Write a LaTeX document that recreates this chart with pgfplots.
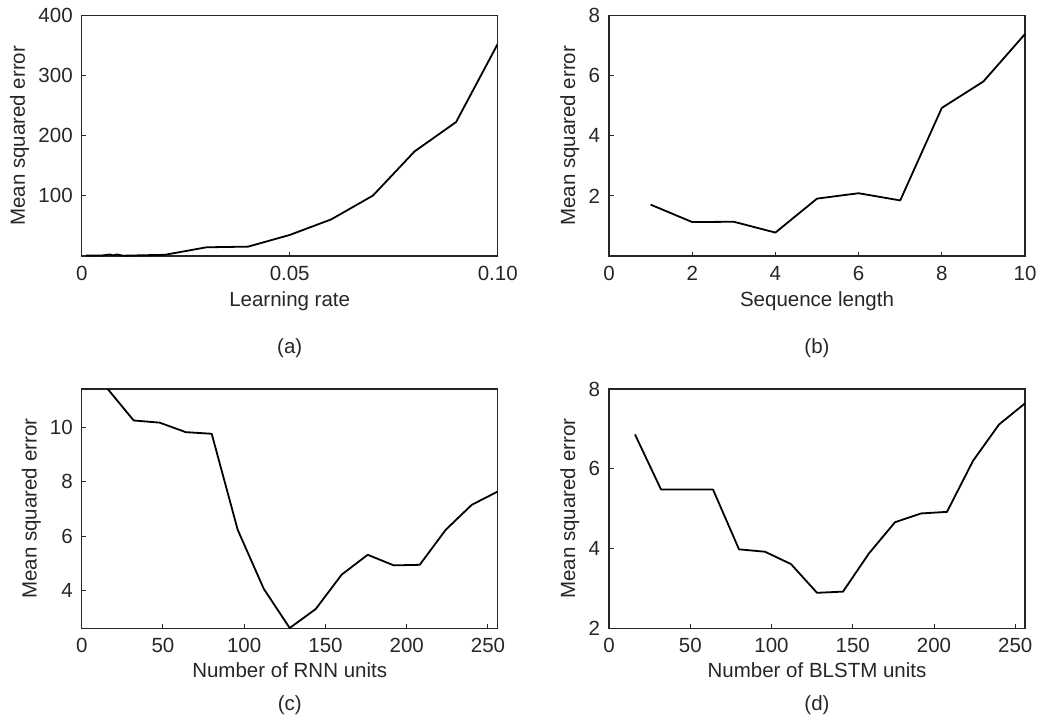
\documentclass[border=0pt]{standalone}
\usepackage{fontspec}
\setmainfont{Liberation Sans}
\usepackage{pgfplots}
\pgfplotsset{compat=1.18}
\definecolor{axgray}{HTML}{262626}

\pgfplotsset{
  panel/.style={
    scale only axis,
    width=416pt,
    axis line style={axgray, line width=1.2pt},
    tick style={axgray, line width=1pt},
    major tick length=4.5pt,
    tick align=inside,
    xtick pos=bottom,
    ytick pos=left,
    tick label style={text=axgray},
    label style={text=axgray},
    xticklabel style={yshift=-3pt},
    yticklabel style={xshift=-2pt},
    /pgf/number format/assume math mode=true,
    xlabel style={at={(axis description cs:0.5,0)}, anchor=base, yshift=-50pt},
    ylabel style={at={(axis description cs:0,0.5)}, anchor=base},
    every axis plot post/.append style={black, line width=1.8pt, mark=none, line join=round},
  },
}

\begin{document}
\fontsize{20.5}{24}\selectfont
\begin{tikzpicture}[x=1pt,y=1pt]
\path[use as bounding box] (0,0) rectangle (1040,-722);

% (a)
\begin{axis}[panel, at={(81.7pt,-256pt)}, anchor=south west, height=240.3pt,
  xmin=0, xmax=0.1, ymin=0, ymax=400,
  xtick={0,0.05,0.1}, xticklabels={0,0.05,0.10},
  ytick={100,200,300,400},
  xlabel={Learning rate}, ylabel={Mean squared error},
  ylabel style={yshift=56.7pt}]
\addplot coordinates {(0.001,1) (0.005,1) (0.0068,2.5) (0.0076,1) (0.0084,2.5)
  (0.01,0.5) (0.02,2) (0.03,14.5) (0.04,15.6) (0.05,35) (0.06,61)
  (0.07,100.5) (0.08,174) (0.09,223) (0.1,353)};
\end{axis}

% (b)
\begin{axis}[panel, at={(609pt,-256pt)}, anchor=south west, height=240.3pt,
  xmin=0, xmax=10, ymin=0, ymax=8,
  xtick={0,2,4,6,8,10}, ytick={2,4,6,8},
  xlabel={Sequence length}, ylabel={Mean squared error},
  ylabel style={yshift=34pt}]
\addplot coordinates {(1,1.71) (2,1.13) (3,1.14) (4,0.78) (5,1.91) (6,2.09)
  (7,1.85) (8,4.93) (9,5.81) (10,7.39)};
\end{axis}

% (c)
\begin{axis}[panel, at={(81.7pt,-628.3pt)}, anchor=south west, height=239.3pt,
  xmin=0, xmax=256, ymin=2.6, ymax=11.42,
  xtick={0,50,100,150,200,250}, ytick={4,6,8,10},
  xlabel={Number of RNN units}, ylabel={Mean squared error},
  xlabel style={yshift=1.3pt},
  ylabel style={yshift=45pt}]
\addplot coordinates {(16,11.42) (32,10.26) (48,10.18) (64,9.83) (80,9.77)
  (96,6.23) (112,4.06) (128,2.61) (144,3.31) (160,4.58) (176,5.31)
  (192,4.92) (208,4.94) (224,6.23) (240,7.15) (256,7.64)};
\end{axis}

% (d)
\begin{axis}[panel, at={(609pt,-628.3pt)}, anchor=south west, height=239.3pt,
  xmin=0, xmax=256, ymin=2, ymax=8,
  xtick={0,50,100,150,200,250}, ytick={2,4,6,8},
  xlabel={Number of BLSTM units}, ylabel={Mean squared error},
  xlabel style={yshift=1.3pt},
  ylabel style={yshift=34pt}]
\addplot coordinates {(16,6.86) (32,5.48) (48,5.48) (64,5.48) (80,3.98)
  (96,3.92) (112,3.61) (128,2.89) (144,2.92) (160,3.88) (176,4.66)
  (192,4.88) (208,4.92) (224,6.2) (240,7.11) (256,7.64)};
\end{axis}

\node[text=axgray] at (289.7,-348) {(a)};
\node[text=axgray] at (817,-348) {(b)};
\node[text=axgray] at (289.7,-705) {(c)};
\node[text=axgray] at (817,-705) {(d)};
\end{tikzpicture}
\end{document}
